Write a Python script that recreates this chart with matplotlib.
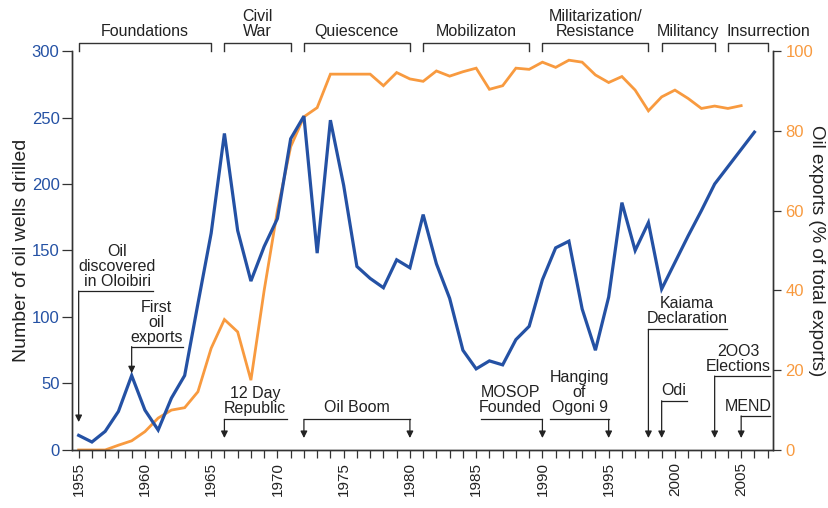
import matplotlib
matplotlib.use('Agg')
import matplotlib.pyplot as plt
import matplotlib.transforms as mtransforms
from matplotlib.ticker import MultipleLocator

plt.rcParams['font.family'] = ['Liberation Sans', 'DejaVu Sans']

# wells drilled per year (left axis)
well_years = list(range(1955, 2007))
wells = [11, 6, 14, 29, 56, 30, 15, 39, 56, 110, 163, 238, 165, 127, 153, 174,
         234, 251, 148, 248, 199, 138, 129, 122, 143, 137, 177, 140, 114, 75,
         61, 67, 64, 83, 93, 128, 152, 157, 106, 75, 115, 186, 150, 171, 121,
         141, 161, 180, 200, 213, 226, 239]

# oil as % of total exports (right axis)
export_years = list(range(1955, 2006))
oil_share = [0, 0, 0, 1.2, 2.3, 4.6, 8, 10, 10.6, 14.6, 25.5, 32.7, 29.6, 17.5,
             40, 60, 76, 83.5, 85.8, 94.2, 94.2, 94.2, 94.2, 91.3, 94.6, 93,
             92.4, 95, 93.7, 94.8, 95.7, 90.4, 91.3, 95.7, 95.4, 97.2, 95.9,
             97.7, 97.2, 94, 92.1, 93.6, 90.2, 85, 88.5, 90.2, 88.1, 85.6,
             86.2, 85.6, 86.3]

# periods along the top
period_names = ['Foundations', 'Civil\nWar', 'Quiescence', 'Mobilizaton',
                'Militarization/\nResistance', 'Militancy', 'Insurrection']
period_start = [1955, 1966, 1972, 1981, 1990, 1999, 2004]
period_end = [1965, 1971, 1980, 1989, 1998, 2003, 2007]

# events: label, year pointed at, far end of the leader line
event_names = ['Oil\ndiscovered\nin Oloibiri', 'First\noil\nexports',
               '12 Day\nRepublic', 'MOSOP\nFounded', 'Hanging\nof\nOgoni 9',
               'Kaiama\nDeclaration', 'Odi', '2OO3\nElections', 'MEND']
event_year = [1955, 1959, 1966, 1990, 1995, 1998, 1999, 2003, 2005]
event_line_end = [1960.6, 1962.9, 1970.7, 1985.35, 1990.6, 2003.9, 2000.9, 2007.2, 2007.2]

blue = '#2451a4'
orange = '#f89a3f'
dark = '#222222'

fig = plt.figure(figsize=(8.29, 5.08), dpi=100)
ax = fig.add_axes([0.0869, 0.1142, 0.8455, 0.7854])
ax2 = ax.twinx()
ax.set_zorder(ax2.get_zorder() + 1)
ax.patch.set_visible(False)

ax.plot(well_years, wells, color=blue, lw=2.3, solid_joinstyle='miter', zorder=3)
ax2.plot(export_years, oil_share, color=orange, lw=2.0, solid_joinstyle='miter')

ax.set_xlim(1954.5, 2007.4)
ax.set_ylim(0, 300)
ax2.set_ylim(0, 100)

ax.xaxis.set_major_locator(MultipleLocator(5))
ax.xaxis.set_minor_locator(MultipleLocator(1))
ax.yaxis.set_major_locator(MultipleLocator(50))
ax2.yaxis.set_major_locator(MultipleLocator(20))
plt.setp(ax.get_xticklabels(), rotation=90)

for a in (ax, ax2):
    a.spines['top'].set_visible(False)
    for s in ('left', 'right', 'bottom'):
        a.spines[s].set_color('#333333')
        a.spines[s].set_linewidth(1.0)

ax.tick_params(axis='x', which='both', length=6, width=0.9, color='#333333',
               labelsize=11, labelcolor=dark, pad=3)
ax.tick_params(axis='y', length=7, width=0.9, color='#333333',
               labelsize=12, labelcolor=blue, pad=2)
ax2.tick_params(axis='y', length=6, width=0.9, color='#333333',
                labelsize=12, labelcolor=orange, pad=3)

ax.set_ylabel('Number of oil wells drilled', fontsize=14, color=dark,
              ha='center', va='center')
ax.yaxis.set_label_coords(-0.072, 0.5)
ax2.set_ylabel('Oil exports (% of total exports)', fontsize=13.5, color=dark,
               rotation=270, ha='center', va='center')
ax2.yaxis.set_label_coords(1.062, 0.5)

# period brackets above the plot
trans = mtransforms.blended_transform_factory(ax.transData, ax.transAxes)
for name, x0, x1 in zip(period_names, period_start, period_end):
    ax.plot([x0, x0, x1, x1], [1.0, 1.021, 1.021, 1.0], color='#333333', lw=1.0,
            transform=trans, clip_on=False)
    if name == 'Insurrection':
        ax.text(x0 - 0.1, 1.031, name, transform=trans, ha='left', va='bottom',
                fontsize=11.5, color=dark, linespacing=1.0)
    else:
        ax.text((x0 + x1) / 2, 1.031, name, transform=trans, ha='center',
                va='bottom', fontsize=11.5, color=dark, linespacing=1.0)

# event annotations
line_level = [119.5, 77.7, 23, 23, 23, 90.7, 37, 55.6, 25.6]
tip_level = [21, 57.7, 9, 9, 9, 9, 9, 9, 9]
text_x = [1957.9, 1960.9, 1968.3, 1987.6, 1992.8, 2000.9, 1999.9, 2004.8, 2005.5]
text_y = [138, 96.2, 36.5, 37.8, 43.6, 104.3, 45, 68.4, 33]

arrow = dict(arrowstyle='-|>', color=dark, lw=0.9, mutation_scale=10,
             shrinkA=0, shrinkB=0)
for name, yr, xe, yl, yt, tx, ty in zip(event_names, event_year, event_line_end,
                                         line_level, tip_level, text_x, text_y):
    ax.plot([yr, xe], [yl, yl], color=dark, lw=0.9, clip_on=False, zorder=4)
    ax.annotate('', xy=(yr, yt), xytext=(yr, yl), arrowprops=arrow, zorder=4)
    ax.text(tx, ty, name, ha='center', va='center', fontsize=11.5, color=dark,
            linespacing=1.0, zorder=4)

# Oil Boom spans 1972-1980 with arrows at both ends
ax.plot([1972, 1980], [23, 23], color=dark, lw=0.9, zorder=4)
for yr in (1972, 1980):
    ax.annotate('', xy=(yr, 9), xytext=(yr, 23), arrowprops=arrow, zorder=4)
ax.text(1976, 31.6, 'Oil Boom', ha='center', va='center', fontsize=11.5, color=dark)

fig.savefig('out.png', dpi=100)
